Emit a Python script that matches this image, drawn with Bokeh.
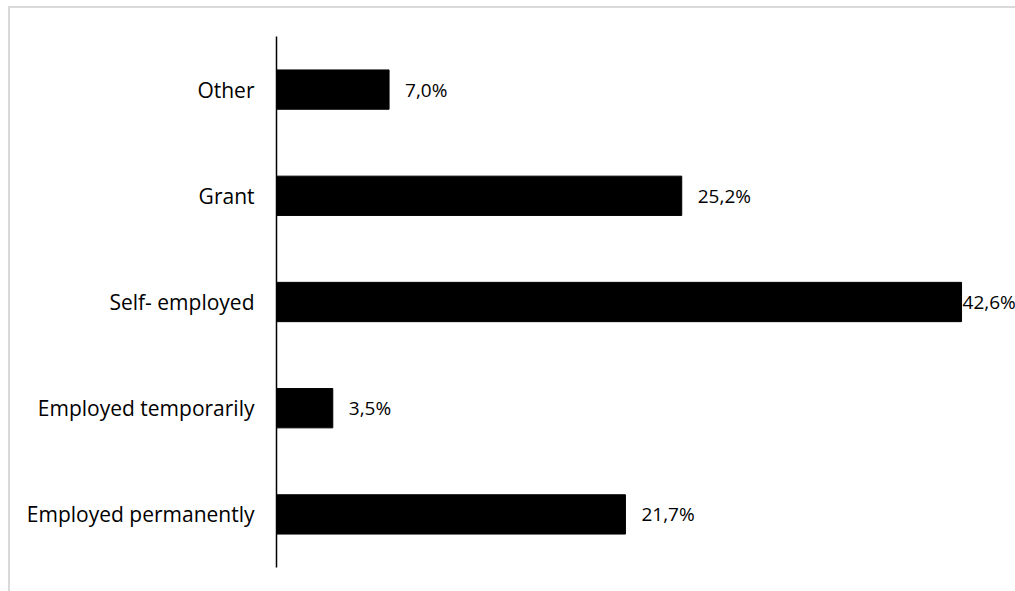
from bokeh.plotting import figure
from bokeh.models import ColumnDataSource, FactorRange, Range1d
from bokeh.core.properties import value
from bokeh.embed import file_html
from bokeh.resources import INLINE

categories = ["Employed permanently", "Employed temporarily", "Self- employed", "Grant", "Other"]
values = [21.7, 3.5, 42.6, 25.2, 7.0]
labels = ["21,7%", "3,5%", "42,6%", "25,2%", "7,0%"]
label_offsets = [16, 16, 1, 16, 16]

FONT = "Open Sans"

src = ColumnDataSource(dict(cat=categories, val=values, lab=labels, off=label_offsets))

p = figure(width=1007, height=585, output_backend="svg", toolbar_location=None,
           y_range=FactorRange(*categories, range_padding=0),
           x_range=Range1d(0, 46.08))
p.margin = (6, 0, 0, 8)
p.styles = {"border-top": "2px solid #d9d9d9", "border-left": "2px solid #d9d9d9"}
p.min_border_left = 266
p.min_border_right = 0
p.min_border_top = 28
p.min_border_bottom = 26
p.outline_line_color = None
p.background_fill_color = "white"
p.border_fill_color = "white"
p.grid.visible = False
p.xaxis.visible = False

p.hbar(y="cat", right="val", left=0, height=0.37, source=src, color="black")
p.text(x="val", y="cat", text="lab", source=src, x_offset="off", text_align="left",
       text_baseline="middle", text_font=value(FONT), text_font_size="19px", text_color="black")

ya = p.yaxis[0]
ya.axis_line_color = "black"
ya.axis_line_width = 1.5
ya.major_tick_line_color = None
ya.minor_tick_line_color = None
ya.major_tick_out = 0
ya.major_tick_in = 0
ya.major_label_standoff = 22
ya.major_label_text_font = FONT
ya.major_label_text_font_size = "21px"
ya.major_label_text_color = "black"

open("out.html", "w").write(file_html(p, INLINE))
